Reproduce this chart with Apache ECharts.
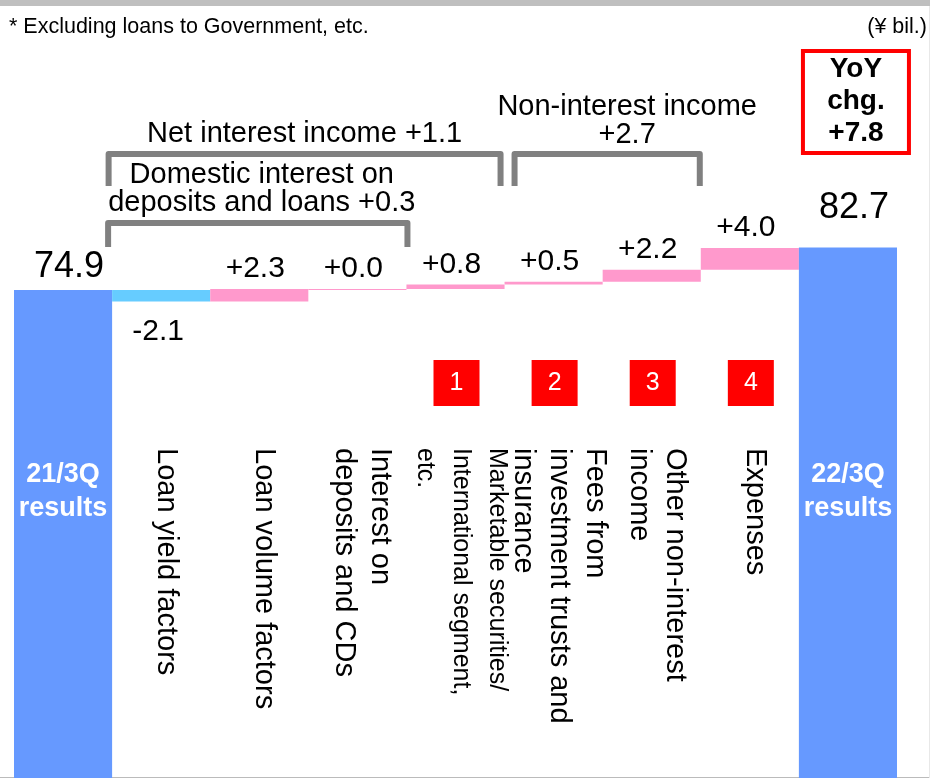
<!DOCTYPE html>
<html>
<head>
<meta charset="utf-8">
<title>Ordinary profit bridge 21/3Q to 22/3Q</title>
<script src="https://cdn.jsdelivr.net/npm/echarts@6/dist/echarts.min.js"></script>
<style>
  html, body { margin: 0; padding: 0; background: #ffffff; }
  #chart { width: 930px; height: 778px; }
</style>
</head>
<body>
<div id="chart"></div>
<script>
// ---- data (¥ bil.) ----
const categories = [
  '21/3Q results',
  'Loan yield factors',
  'Loan volume factors',
  'Interest on deposits and CDs',
  'Marketable securities/ International segment, etc.',
  'Fees from investment trusts and insurance',
  'Other non-interest income',
  'Expenses',
  '22/3Q results'
];
// rotated category captions, one entry per category (blank for the two totals)
const categoryCaptions = [
  '',
  'Loan yield factors',
  'Loan volume factors',
  'Interest on\ndeposits and CDs',
  'Marketable securities/\nInternational segment,\netc.',
  'Fees from\ninvestment trusts and\ninsurance',
  'Other non-interest\nincome',
  'Expenses',
  ''
];
const totalCaptions = ['21/3Q\nresults', '22/3Q\nresults'];
const startTotal = 74.9;
const endTotal = 82.7;
// change of each factor, categories 1..7
const factorChanges = [-2.1, 2.3, 0.0, 0.8, 0.5, 2.2, 4.0];

// numbered badges under the factors
const badgeCategories = [4, 5, 6, 7];
const badgeNumbers = ['1', '2', '3', '4'];

// bracketed subtotals
const groupNames = ['Net interest income', 'Domestic interest on\ndeposits and loans', 'Non-interest income'];
const groupFrom = [1, 1, 5];
const groupTo = [4, 3, 6];
const groupChanges = [1.1, 0.3, 2.7];

// ---- styling ----
const FONT = '"Liberation Sans", Arial, Helvetica, sans-serif';
const COLORS = { total: '#6699FF', down: '#66CCFF', up: '#FF99CC', flat: '#FF99CC' };
const BRACKET_GREY = '#808080';
const fmtChange = v => (v < 0 ? '' : '+') + v.toFixed(1);

// bracket geometry (pixels): edge insets, bar height, leg end, caption placement
const bracketStyle = [
  { dl: -3.5, dr: -4, bar: 154, leg: 186, sep: ' ', dx: 0,  ty: 148, lh: 28 },
  { dl: -4,   dr: 1,  bar: 223, leg: 247, sep: ' ', dx: 4,  ty: 217, lh: 28 },
  { dl: 10,   dr: -1, bar: 154, leg: 186, sep: '\n', dx: 20, ty: 149, lh: 28 }
];

// ---- waterfall rows built from the values above ----
const barRows = [];
let level = startTotal;
barRows.push({ i: 0, kind: 'total', v: startTotal, caption: totalCaptions[0], gap: 5 });
factorChanges.forEach((d, k) => {
  barRows.push({ i: k + 1, kind: d < 0 ? 'down' : (d > 0 ? 'up' : 'flat'), from: level, to: level + d, d: d });
  level += d;
});
barRows.push({ i: 8, kind: 'total', v: endTotal, caption: totalCaptions[1], gap: 21 });

function renderBar(params, api) {
  const row = barRows[params.dataIndex];
  const cs = params.coordSys;
  const w = api.size([1, 0])[0];
  const cx = api.coord([row.i, 0])[0];
  let top, bottom;
  if (row.kind === 'total') {
    top = api.coord([row.i, row.v])[1];
    bottom = cs.y + cs.height;
  } else {
    const a = api.coord([row.i, row.from])[1];
    const b = api.coord([row.i, row.to])[1];
    top = Math.min(a, b);
    bottom = Math.max(a, b);
    if (bottom - top < 1) bottom = top + 1;
  }
  const children = [{
    type: 'rect',
    shape: { x: cx - w / 2, y: top, width: w, height: bottom - top },
    style: { fill: COLORS[row.kind] }
  }];
  if (row.kind === 'total') {
    children.push({
      type: 'text',
      style: {
        text: row.v.toFixed(1), x: cx + 6, y: top - row.gap,
        align: 'center', verticalAlign: 'bottom',
        fontSize: 36, fontFamily: FONT, fill: '#000'
      }
    });
    children.push({
      type: 'text',
      style: {
        text: row.caption, x: cx, y: 492,
        align: 'center', verticalAlign: 'middle',
        fontSize: 27, fontWeight: 'bold', lineHeight: 34, fontFamily: FONT, fill: '#ffffff'
      }
    });
  } else if (row.d < 0) {
    children.push({
      type: 'text',
      style: {
        text: fmtChange(row.d), x: cx - 3, y: bottom + 15,
        align: 'center', verticalAlign: 'top',
        fontSize: 30, fontFamily: FONT, fill: '#000'
      }
    });
  } else {
    children.push({
      type: 'text',
      style: {
        text: fmtChange(row.d), x: cx - 4, y: top - 5,
        align: 'center', verticalAlign: 'bottom',
        fontSize: 30, fontFamily: FONT, fill: '#000'
      }
    });
  }
  return { type: 'group', children: children };
}

function renderBracket(params, api) {
  const k = params.dataIndex;
  const st = bracketStyle[k];
  const w = api.size([1, 0])[0];
  const xl = api.coord([api.value(0), 0])[0] - w / 2 + st.dl;
  const xr = api.coord([api.value(1), 0])[0] + w / 2 + st.dr;
  return {
    type: 'group',
    children: [
      {
        type: 'polyline',
        shape: { points: [[xl, st.leg], [xl, st.bar], [xr, st.bar], [xr, st.leg]] },
        style: { stroke: BRACKET_GREY, lineWidth: 6, lineJoin: 'round', lineCap: 'butt', fill: null }
      },
      {
        type: 'text',
        style: {
          text: groupNames[k] + st.sep + fmtChange(groupChanges[k]),
          x: (xl + xr) / 2 + st.dx, y: st.ty,
          align: 'center', verticalAlign: 'bottom',
          fontSize: 29, lineHeight: st.lh, fontFamily: FONT, fill: '#000'
        }
      }
    ]
  };
}

function renderBadge(params, api) {
  const cx = api.coord([api.value(0), 0])[0] + 1;
  const size = 46;
  return {
    type: 'group',
    children: [
      { type: 'rect', shape: { x: cx - size / 2, y: 360, width: size, height: size }, style: { fill: '#FF0000' } },
      {
        type: 'text',
        style: {
          text: badgeNumbers[params.dataIndex], x: cx, y: 383,
          align: 'center', verticalAlign: 'middle',
          fontSize: 25, fontFamily: FONT, fill: '#ffffff'
        }
      }
    ]
  };
}

function renderYoY(params, api) {
  const cx = api.coord([api.value(0), 0])[0] + 8;
  const yoy = endTotal - startTotal;
  return {
    type: 'group',
    children: [
      {
        type: 'rect',
        shape: { x: cx - 53, y: 51, width: 106, height: 102 },
        style: { fill: '#ffffff', stroke: '#FF0000', lineWidth: 4 }
      },
      {
        type: 'text',
        style: {
          text: 'YoY\nchg.\n' + fmtChange(yoy), x: cx, y: 101,
          align: 'center', verticalAlign: 'middle',
          fontSize: 28, fontWeight: 'bold', lineHeight: 32, fontFamily: FONT, fill: '#000'
        }
      }
    ]
  };
}

const chart = echarts.init(document.getElementById('chart'), null, { renderer: 'canvas' });

chart.setOption({
  animation: false,
  backgroundColor: '#ffffff',
  textStyle: { fontFamily: FONT },
  title: [
    {
      text: '* Excluding loans to Government, etc.',
      left: 9, top: 16, padding: 0,
      textStyle: { fontSize: 21.5, fontWeight: 'normal', color: '#000', fontFamily: FONT }
    },
    {
      text: '(\u00A5 bil.)',
      right: 3, top: 16, padding: 0,
      textStyle: { fontSize: 21.5, fontWeight: 'normal', color: '#000', fontFamily: FONT }
    }
  ],
  graphic: [
    { type: 'rect', left: 0, top: 0, shape: { width: 930, height: 6 }, style: { fill: '#BFBFBF' }, z: -10 },
    { type: 'rect', left: 0, top: 777, shape: { width: 930, height: 1 }, style: { fill: '#BBBBBB' }, z: -10 },
    { type: 'rect', left: 929, top: 6, shape: { width: 1, height: 772 }, style: { fill: '#E8E8E8' }, z: -10 }
  ],
  grid: [
    { left: 14, right: 33, top: 0, bottom: 0, outerBoundsMode: 'none' },
    { left: 19, right: 28, top: 380, bottom: 337, outerBoundsMode: 'none' }
  ],
  xAxis: [
    { type: 'category', gridIndex: 0, data: categories, show: false },
    {
      type: 'category', gridIndex: 1, data: categories, position: 'bottom',
      axisLine: { show: false }, axisTick: { show: false }, splitLine: { show: false },
      axisLabel: {
        interval: 0, rotate: -90, margin: 7,
        fontSize: 29, lineHeight: 36, color: '#000', fontFamily: FONT,
        formatter: (val, idx) => {
          const txt = categoryCaptions[idx];
          if (idx === 4) return txt.split('\n').map(s => '{s|' + s + '}').join('\n');
          return txt;
        },
        rich: { s: { fontSize: 25, lineHeight: 36, color: '#000', fontFamily: FONT } }
      }
    }
  ],
  yAxis: [
    { type: 'value', gridIndex: 0, min: -14.6, max: 128.1, show: false, splitLine: { show: false } },
    { type: 'value', gridIndex: 1, show: false, splitLine: { show: false } }
  ],
  series: [
    {
      name: 'Change',
      type: 'custom',
      xAxisIndex: 0, yAxisIndex: 0,
      silent: true, clip: false,
      renderItem: renderBar,
      data: barRows.map(r => [r.i, r.kind === 'total' ? r.v : r.to])
    },
    {
      name: 'Subtotals',
      type: 'custom',
      xAxisIndex: 0, yAxisIndex: 0,
      silent: true, clip: false,
      renderItem: renderBracket,
      data: groupNames.map((n, k) => [groupFrom[k], groupTo[k]])
    },
    {
      name: 'Badges',
      type: 'custom',
      xAxisIndex: 0, yAxisIndex: 0,
      silent: true, clip: false,
      renderItem: renderBadge,
      data: badgeCategories.map(c => [c, 0])
    },
    {
      name: 'YoY',
      type: 'custom',
      xAxisIndex: 0, yAxisIndex: 0,
      silent: true, clip: false,
      renderItem: renderYoY,
      data: [[8, 0]]
    }
  ]
});
</script>
</body>
</html>
